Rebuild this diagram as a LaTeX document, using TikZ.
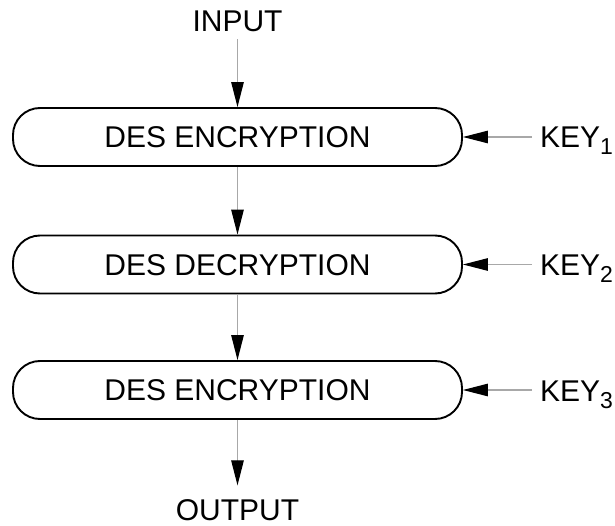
\documentclass[tikz,border=0pt]{standalone}
\usepackage{fontspec}
\setmainfont{Liberation Sans}
\usetikzlibrary{arrows.meta}
\definecolor{linegray}{HTML}{A8A8A8}
\tikzset{
  stage/.style={draw=black, line width=1.9pt, rounded corners=27pt,
    minimum width=449pt, minimum height=58pt, inner sep=0pt,
    text height=21.5pt, text depth=0pt, font=\fontsize{30}{36}\selectfont},
  label/.style={inner sep=0pt, font=\fontsize{30}{36}\selectfont},
  flow/.style={draw=linegray, line width=1.1pt,
    -{Triangle[length=25pt,width=12.5pt,color=black]}}
}
\newcommand{\keysub}[1]{{\fontsize{23}{23}\selectfont\raisebox{-7pt}{#1}}}
\begin{document}
\begin{tikzpicture}[x=1pt,y=-1pt]
\useasboundingbox (0,0) rectangle (615,526);
\node[label, anchor=base] (in) at (237.5,32) {INPUT};
\node[stage] (b1) at (237.5,137) {DES ENCRYPTION};
\node[stage] (b2) at (237.5,264.5) {DES DECRYPTION};
\node[stage] (b3) at (237.5,390) {DES ENCRYPTION};
\node[label, anchor=base] (out) at (237.5,520.5) {OUTPUT};
\node[label, anchor=base west] (k1) at (540,148) {KEY\keysub{1}};
\node[label, anchor=base west] (k2) at (540,275.5) {KEY\keysub{2}};
\node[label, anchor=base west] (k3) at (540,401) {KEY\keysub{3}};
\draw[flow, shorten <=7pt] (in.south) -- (b1.north);
\draw[flow] (b1.south) -- (b2.north);
\draw[flow] (b2.south) -- (b3.north);
\draw[flow, shorten >=14pt] (b3.south) -- (out.north);
\draw[flow, shorten <=8pt] (k1.west |- b1.east) -- (b1.east);
\draw[flow, shorten <=8pt] (k2.west |- b2.east) -- (b2.east);
\draw[flow, shorten <=8pt] (k3.west |- b3.east) -- (b3.east);
\end{tikzpicture}
\end{document}
